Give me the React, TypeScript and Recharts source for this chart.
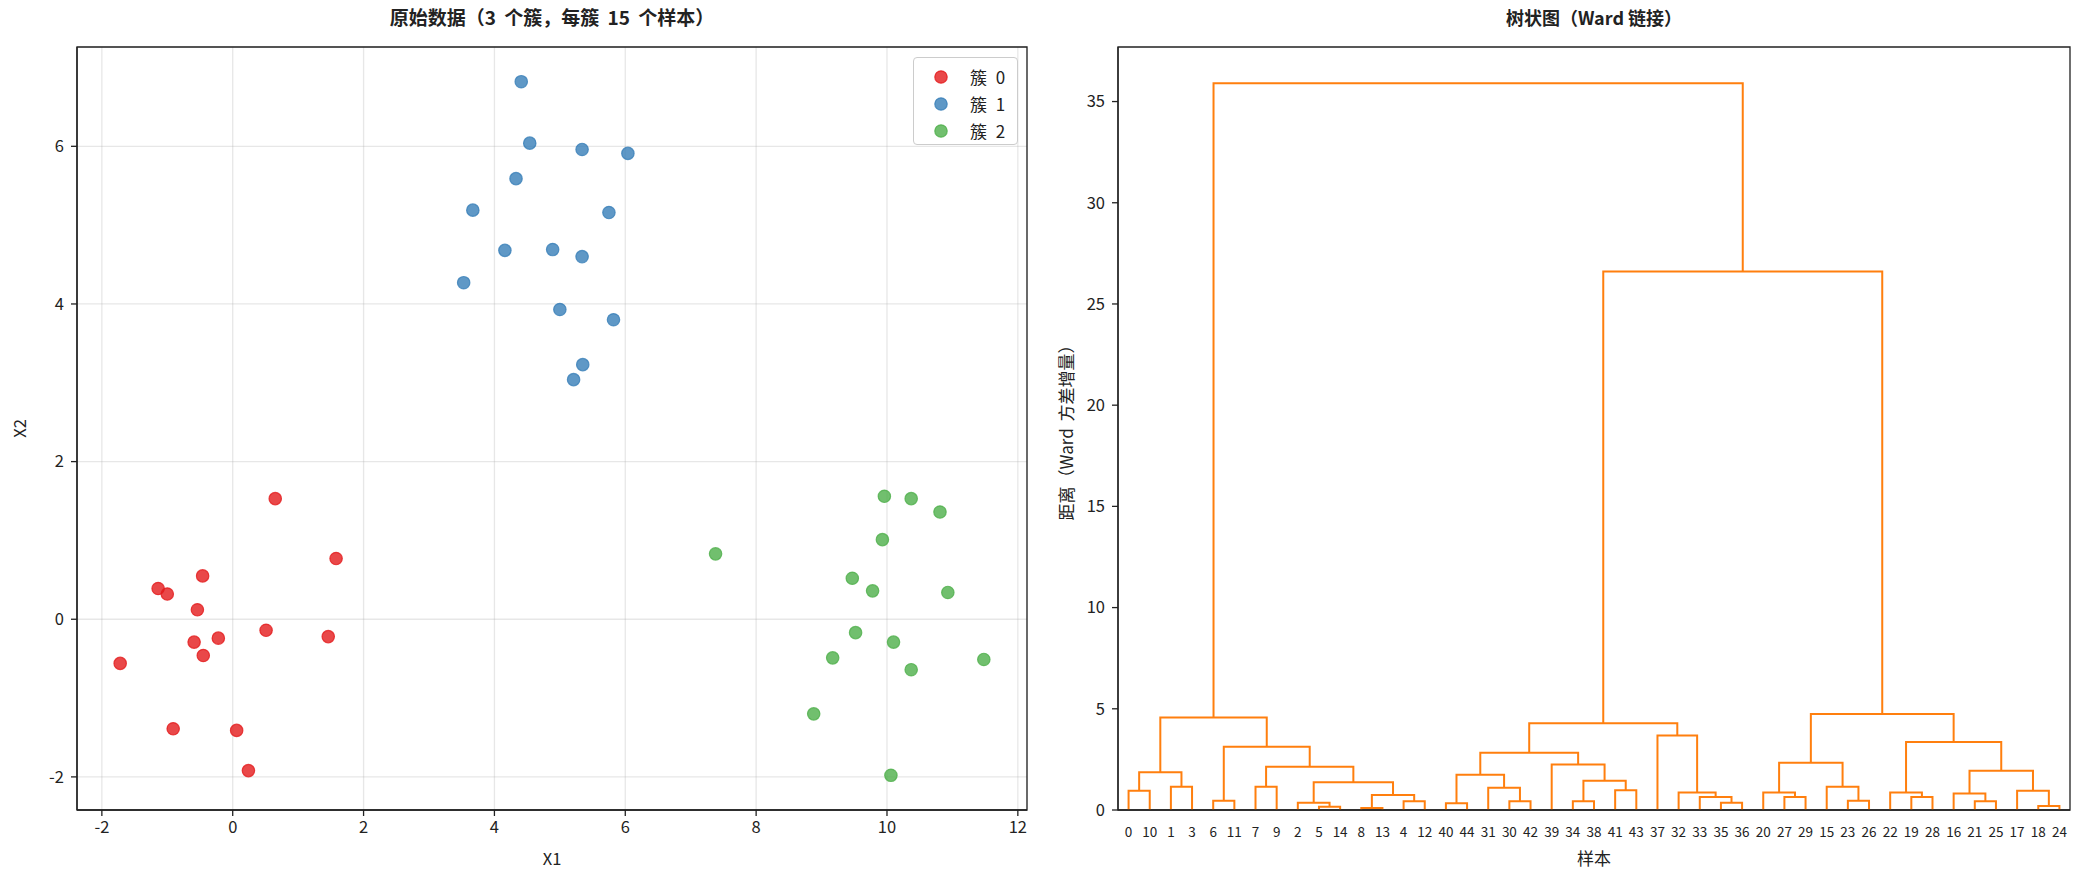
import React from 'react';
import { ScatterChart, Scatter, ComposedChart, Line, XAxis, YAxis, CartesianGrid, ReferenceArea } from 'recharts';

const FONT = '"Noto Sans CJK SC", "Noto Sans", sans-serif';
const INK = '#222';

// left panel: raw samples
const cluster0X = [-1.72, -1.14, -1.0, -0.46, -0.54, -0.59, -0.45, -0.22, 0.51, 0.65, 1.58, 1.46, -0.91, 0.06, 0.24];
const cluster0Y = [-0.56, 0.39, 0.32, 0.55, 0.12, -0.29, -0.46, -0.24, -0.14, 1.53, 0.77, -0.22, -1.39, -1.41, -1.92];
const cluster1X = [4.41, 4.54, 5.34, 6.04, 4.33, 3.67, 5.75, 4.16, 4.89, 5.34, 3.53, 5.0, 5.82, 5.35, 5.21];
const cluster1Y = [6.82, 6.04, 5.96, 5.91, 5.59, 5.19, 5.16, 4.68, 4.69, 4.6, 4.27, 3.93, 3.8, 3.23, 3.04];
const cluster2X = [7.38, 9.96, 10.37, 10.81, 9.93, 9.47, 9.78, 10.93, 9.52, 10.1, 9.17, 10.37, 11.48, 8.88, 10.06];
const cluster2Y = [0.83, 1.56, 1.53, 1.36, 1.01, 0.52, 0.36, 0.34, -0.17, -0.29, -0.49, -0.64, -0.51, -1.2, -1.98];

const clusterNames = ['簇 0', '簇 1', '簇 2'];
const clusterColors = ['#e41a1c', '#377eb8', '#4daf4a'];
const scatterXTicks = [-2, 0, 2, 4, 6, 8, 10, 12];
const scatterYTicks = [-2, 0, 2, 4, 6];

// right panel: leaf order and Ward merges [a, b, height] (ids >= 45 are earlier merges)
const leafOrder = [0, 10, 1, 3, 6, 11, 7, 9, 2, 5, 14, 8, 13, 4, 12, 40, 44, 31, 30, 42, 39, 34, 38, 41, 43, 37, 32, 33, 35, 36, 20, 27, 29, 15, 23, 26, 22, 19, 28, 16, 21, 25, 17, 18, 24];
const merges: [number, number, number][] = [
  [8, 13, 0.1], [5, 14, 0.16], [18, 24, 0.2], [40, 44, 0.33], [2, 46, 0.36],
  [35, 36, 0.36], [4, 12, 0.43], [30, 42, 0.43], [34, 38, 0.43], [21, 25, 0.43],
  [6, 11, 0.46], [23, 26, 0.46], [27, 29, 0.64], [19, 28, 0.64], [33, 50, 0.64],
  [45, 51, 0.74], [16, 54, 0.81], [20, 57, 0.86], [22, 58, 0.86], [32, 59, 0.86],
  [0, 10, 0.95], [17, 47, 0.95], [41, 43, 0.97], [31, 52, 1.1], [1, 3, 1.15],
  [7, 9, 1.15], [15, 56, 1.15], [49, 60, 1.37], [53, 67, 1.45], [48, 68, 1.74],
  [65, 69, 1.86], [61, 66, 1.94], [70, 72, 2.14], [39, 73, 2.25], [62, 71, 2.34],
  [74, 78, 2.83], [55, 77, 3.13], [63, 76, 3.36], [37, 64, 3.68], [80, 83, 4.29],
  [75, 81, 4.57], [79, 82, 4.74], [84, 86, 26.6], [85, 87, 35.9],
];
const distTicks = [0, 5, 10, 15, 20, 25, 30, 35];

const padded = (vals: number[]) => {
  const lo = Math.min(...vals);
  const hi = Math.max(...vals);
  const m = (hi - lo) * 0.05;
  return [lo - m, hi + m];
};

const clusters = [
  { xs: cluster0X, ys: cluster0Y },
  { xs: cluster1X, ys: cluster1Y },
  { xs: cluster2X, ys: cluster2Y },
].map((c, i) => ({
  name: clusterNames[i],
  color: clusterColors[i],
  points: c.xs.map((x, j) => ({ x, y: c.ys[j] })),
}));

const xDomain = padded([...cluster0X, ...cluster1X, ...cluster2X]);
const yDomain = padded([...cluster0Y, ...cluster1Y, ...cluster2Y]);

// dendrogram geometry, scipy style: leaves at 5, 15, 25 ...
const N = leafOrder.length;
const nodeX: number[] = [];
const nodeH: number[] = [];
leafOrder.forEach((id, i) => {
  nodeX[id] = 5 + 10 * i;
  nodeH[id] = 0;
});
merges.forEach(([a, b, h], k) => {
  nodeX[N + k] = (nodeX[a] + nodeX[b]) / 2;
  nodeH[N + k] = h;
});
const links = merges.map(([a, b, h]) => [
  { x: nodeX[a], y: nodeH[a] },
  { x: nodeX[a], y: h },
  { x: nodeX[b], y: h },
  { x: nodeX[b], y: nodeH[b] },
]);
const leafTicks = leafOrder.map((_, i) => 5 + 10 * i);
const distTop = Math.max(...merges.map((m) => m[2])) * 1.05;

const tickStyle = { fontSize: 16.5, fill: INK, fontFamily: FONT };
const lineStyle = { stroke: INK, strokeWidth: 1.3 };

const Dot = (props: any) => (
  <circle cx={props.cx} cy={props.cy} r={6.2} fill={props.fill} fillOpacity={0.8}
    stroke={props.fill} strokeOpacity={0.8} strokeWidth={1.2} />
);

const titleStyle: React.CSSProperties = {
  position: 'absolute', top: 3, fontSize: 19, fontWeight: 'bold', textAlign: 'center',
  lineHeight: '28px', color: INK, whiteSpace: 'nowrap', wordSpacing: 4,
};

export default function App() {
  return (
    <div style={{ position: 'absolute', left: 0, top: 0, width: 2084, height: 884, background: '#fff', fontFamily: FONT }}>
      <div style={{ position: 'absolute', left: 0, top: 0 }}>
        <ScatterChart width={1045} height={884} margin={{ top: 47, right: 18, bottom: 0, left: 0 }}>
          <CartesianGrid stroke="#b0b0b0" strokeOpacity={0.3} strokeWidth={1.3} />
          <XAxis type="number" dataKey="x" domain={xDomain} ticks={scatterXTicks} allowDataOverflow interval={0}
            height={74} tickSize={6} tickMargin={5} axisLine={lineStyle} tickLine={lineStyle} tick={tickStyle}
            label={{ value: 'X1', position: 'insideBottom', offset: 19, fontSize: 16.5, fill: INK, fontFamily: FONT }} />
          <YAxis type="number" dataKey="y" domain={yDomain} ticks={scatterYTicks} allowDataOverflow interval={0}
            width={77} tickSize={6} tickMargin={7} axisLine={lineStyle} tickLine={lineStyle} tick={tickStyle}
            label={{ value: 'X2', angle: -90, position: 'insideLeft', offset: 20, fontSize: 16.5, fill: INK, fontFamily: FONT, style: { textAnchor: 'middle' } }} />
          <ReferenceArea x1={xDomain[0]} x2={xDomain[1]} y1={yDomain[0]} y2={yDomain[1]}
            fill="none" stroke={INK} strokeWidth={1.3} ifOverflow="visible" />
          {clusters.map((c) => (
            <Scatter key={c.name} name={c.name} data={c.points} fill={c.color} shape={Dot} isAnimationActive={false} />
          ))}
        </ScatterChart>
      </div>
      <div style={{ ...titleStyle, left: 77, width: 950 }}>原始数据（3 个簇，每簇 15 个样本）</div>
      <div style={{
        position: 'absolute', left: 913, top: 57, width: 105, height: 88, paddingTop: 5, boxSizing: 'border-box',
        border: '1.3px solid #ccc', borderRadius: 4, background: 'rgba(255,255,255,0.8)',
      }}>
        {clusters.map((c) => (
          <div key={c.name} style={{ height: 27, display: 'flex', alignItems: 'center', fontSize: 17, color: INK, wordSpacing: 5 }}>
            <svg width={56} height={16} style={{ flex: 'none' }}>
              <circle cx={27} cy={8} r={6.2} fill={c.color} fillOpacity={0.8} stroke={c.color} strokeOpacity={0.8} strokeWidth={1.2} />
            </svg>
            <span>{c.name}</span>
          </div>
        ))}
      </div>

      <div style={{ position: 'absolute', left: 1045, top: 0 }}>
        <ComposedChart width={1039} height={884} margin={{ top: 47, right: 14, bottom: 0, left: 0 }}>
          <XAxis type="number" dataKey="x" domain={[0, 10 * N]} ticks={leafTicks} allowDataOverflow interval={0}
            tickFormatter={(v: number) => String(leafOrder[Math.round((v - 5) / 10)])}
            height={74} tickSize={6} tickMargin={11} axisLine={lineStyle} tickLine={false}
            tick={{ fontSize: 13.5, fill: INK, fontFamily: FONT }}
            label={{ value: '样本', position: 'insideBottom', offset: 19, fontSize: 17, fill: INK, fontFamily: FONT }} />
          <YAxis type="number" dataKey="y" domain={[0, distTop]} ticks={distTicks} allowDataOverflow interval={0}
            width={73} tickSize={6} tickMargin={7} axisLine={lineStyle} tickLine={lineStyle} tick={tickStyle}
            label={{ value: '距离（Ward 方差增量）', angle: -90, position: 'insideLeft', offset: 22, fontSize: 17, fill: INK, fontFamily: FONT, style: { textAnchor: 'middle', wordSpacing: 3 } }} />
          <ReferenceArea x1={0} x2={10 * N} y1={0} y2={distTop}
            fill="none" stroke={INK} strokeWidth={1.3} ifOverflow="visible" />
          {links.map((pts, k) => (
            <Line key={k} data={pts} dataKey="y" type="linear" stroke="#ff7f0e" strokeWidth={2}
              dot={false} activeDot={false} isAnimationActive={false} />
          ))}
        </ComposedChart>
      </div>
      <div style={{ ...titleStyle, left: 1118, width: 952, fontSize: 18, wordSpacing: 0 }}>树状图（Ward 链接）</div>
    </div>
  );
}
